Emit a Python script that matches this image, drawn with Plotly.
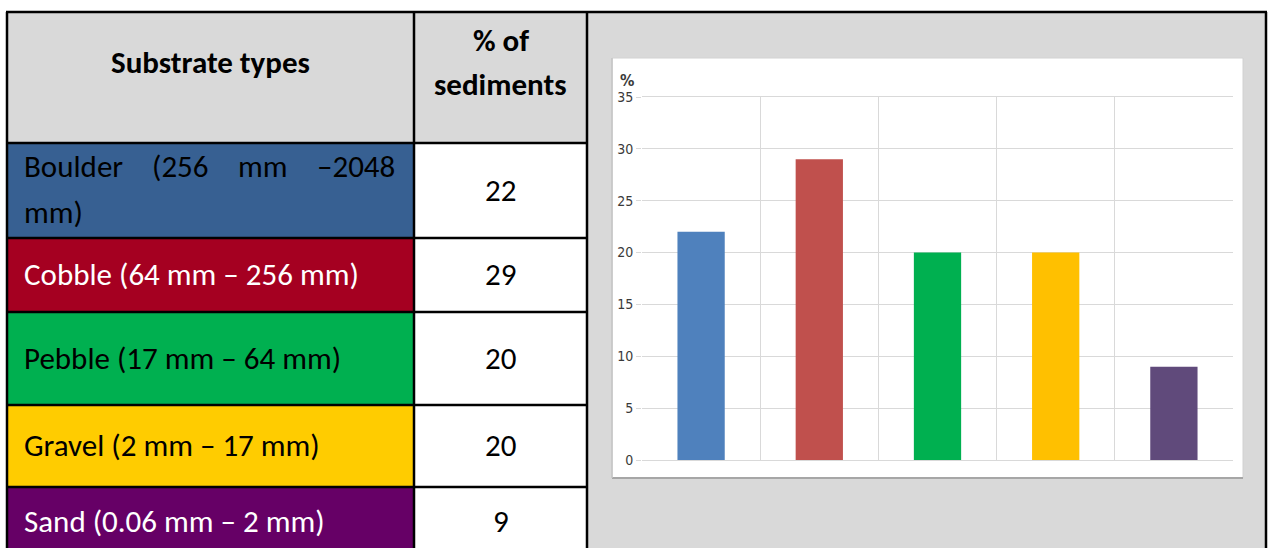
import plotly.graph_objects as go

# ---- data -------------------------------------------------------------
substrates = ["Boulder", "Cobble", "Pebble", "Gravel", "Sand"]
size_ranges = ["(256 mm –2048 mm)", "(64 mm – 256 mm)", "(17 mm – 64 mm)",
               "(2 mm – 17 mm)", "(0.06 mm – 2 mm)"]
percent = [22, 29, 20, 20, 9]
header_left = "Substrate types"
header_right = ["% of", "sediments"]
cell_fill = ["#376092", "#A50021", "#00B050", "#FFCC00", "#660066"]
cell_text = ["#000000", "#FFFFFF", "#000000", "#000000", "#FFFFFF"]
bar_colors = ["#4F81BD", "#C0504D", "#00B050", "#FFC000", "#604A7B"]
y_ticks = [0, 5, 10, 15, 20, 25, 30, 35]

# ---- page geometry (pixels) --------------------------------------------
W, H = 1269, 548
T_LEFT, T_MID, T_RIGHT, CELL_RIGHT = 7, 414, 587, 1266
T_TOP, HEAD_BOTTOM = 12, 143
ROW_EDGES = [143, 238, 312, 405, 487, 560]
TEXT_PAD = 22
TABLE_FONT = "Carlito, Lato, sans-serif"
TABLE_SIZE = 31
HEAD_SIZE = 31
AXIS_FONT = "DejaVu Sans Condensed, Liberation Sans Narrow, sans-serif"


def px(x):
    return x / W


def py(y):
    return 1 - y / H


def rect(x0, y0, x1, y1, fill, line=None, width=0):
    return dict(type="rect", xref="paper", yref="paper", layer="below",
                x0=px(x0), x1=px(x1), y0=py(y1), y1=py(y0),
                fillcolor=fill,
                line=dict(color=line or fill, width=width))


def hline(x0, x1, y, color="#000000", width=2.5):
    return dict(type="line", xref="paper", yref="paper", layer="below",
                x0=px(x0), x1=px(x1), y0=py(y), y1=py(y),
                line=dict(color=color, width=width))


def vline(x, y0, y1, color="#000000", width=2.5):
    return dict(type="line", xref="paper", yref="paper", layer="below",
                x0=px(x), x1=px(x), y0=py(y0), y1=py(y1),
                line=dict(color=color, width=width))


def text(x, y, s, size=TABLE_SIZE, color="#000000", anchor="center", bold=False):
    return dict(xref="paper", yref="paper", x=px(x), y=py(y), text=s,
                showarrow=False, xanchor=anchor, yanchor="middle",
                font=dict(family=TABLE_FONT, size=size, color=color,
                          weight="bold" if bold else "normal"))


CHAR_W = {"m": 0.86, "(": 0.30, ")": 0.30, "l": 0.23, "i": 0.23, " ": 0.23}


def est_width(word, size):
    return sum(CHAR_W.get(c, 0.51) for c in word) * size


shapes, notes = [], []

# grey merged cell holding the chart, grey header cells, white value cells
shapes.append(rect(T_RIGHT, T_TOP, CELL_RIGHT, H + 20, "#D9D9D9"))
shapes.append(rect(T_LEFT, T_TOP, T_RIGHT, HEAD_BOTTOM, "#D9D9D9"))
for i in range(len(substrates)):
    top, bottom = ROW_EDGES[i], ROW_EDGES[i + 1]
    shapes.append(rect(T_LEFT, top, T_MID, bottom, cell_fill[i]))
    shapes.append(rect(T_MID, top, T_RIGHT, bottom, "#FFFFFF"))

# white chart panel with its soft frame
BOX = (612, 58, 1243, 478)
shapes.append(rect(*BOX, "#FFFFFF", line="#D2D2D2", width=1))
shapes.append(hline(BOX[0], BOX[2], BOX[3], color="#A6A6A6", width=2))
shapes.append(vline(BOX[0], BOX[1], BOX[3], color="#C4C4C4", width=1.5))

# table rules
shapes.append(hline(T_LEFT - 1, CELL_RIGHT + 1, T_TOP))
shapes.append(vline(T_LEFT, T_TOP, H + 5))
shapes.append(vline(T_MID, T_TOP, H + 5))
shapes.append(vline(T_RIGHT, T_TOP, H + 5))
shapes.append(vline(CELL_RIGHT, T_TOP, H + 5))
for y in ROW_EDGES[:-1]:
    shapes.append(hline(T_LEFT, T_RIGHT, y))

# header text
notes.append(text((T_LEFT + T_MID) / 2, 62, header_left, size=HEAD_SIZE, bold=True))
notes.append(text((T_MID + T_RIGHT) / 2, 40, header_right[0], size=HEAD_SIZE, bold=True))
notes.append(text((T_MID + T_RIGHT) / 2, 84, header_right[1], size=HEAD_SIZE, bold=True))

# body rows
for i, name in enumerate(substrates):
    top, bottom = ROW_EDGES[i], min(ROW_EDGES[i + 1], H + 8)
    label = f"{name} {size_ranges[i]}"
    words = label.split(" ")
    mid_y = (top + bottom) / 2 - 1
    notes.append(text((T_MID + T_RIGHT) / 2, mid_y, str(percent[i])))
    right_limit = T_MID - 17
    if est_width(label, TABLE_SIZE) > right_limit - TEXT_PAD:
        # justified first line, remainder on the second line
        first, rest = words[:-1], words[-1:]
        y1, y2 = mid_y - 24, mid_y + 22
        widths = [est_width(w, TABLE_SIZE) for w in first]
        gap = (right_limit - TEXT_PAD - sum(widths)) / (len(first) - 1)
        x = TEXT_PAD
        for k, w in enumerate(first):
            if k == 0:
                notes.append(text(x, y1, w, color=cell_text[i], anchor="left"))
            elif k == len(first) - 1:
                notes.append(text(right_limit, y1, w, color=cell_text[i], anchor="right"))
            else:
                notes.append(text(x + widths[k] / 2, y1, w, color=cell_text[i]))
            x += widths[k] + gap
        notes.append(text(TEXT_PAD, y2, " ".join(rest), color=cell_text[i], anchor="left"))
    else:
        notes.append(text(TEXT_PAD, mid_y, label, color=cell_text[i], anchor="left"))

# unit label above the value axis
notes.append(dict(xref="paper", yref="paper", x=px(627), y=py(80), text="<b>%</b>",
                  showarrow=False, xanchor="center", yanchor="middle",
                  font=dict(family=AXIS_FONT, size=16, color="#3A3A3A")))

fig = go.Figure(go.Bar(
    x=substrates, y=percent, marker=dict(color=bar_colors, line=dict(width=0)),
    width=0.4, hoverinfo="x+y",
))

fig.update_layout(
    width=W, height=H,
    margin=dict(l=0, r=0, t=0, b=0, pad=0),
    paper_bgcolor="#FFFFFF", plot_bgcolor="#FFFFFF",
    showlegend=False,
    shapes=shapes, annotations=notes,
    xaxis=dict(domain=[px(642), px(1233)], type="category", range=[-0.5, 4.5],
               tickson="boundaries", showgrid=True, gridcolor="#D9D9D9", gridwidth=1,
               showticklabels=False, ticks="", showline=True, linecolor="#D9D9D9",
               mirror=True, zeroline=False, fixedrange=True, automargin=False),
    yaxis=dict(domain=[py(460), py(97)], range=[0, 35], tickvals=y_ticks,
               showgrid=True, gridcolor="#D9D9D9", gridwidth=1,
               zeroline=True, zerolinecolor="#CFCFCF", zerolinewidth=1,
               ticks="outside", ticklen=5, tickcolor="#D9D9D9",
               showline=False, automargin=False,
               tickfont=dict(family=AXIS_FONT, size=14, color="#3A3A3A"),
               fixedrange=True),
)

fig.write_html("out.html")
